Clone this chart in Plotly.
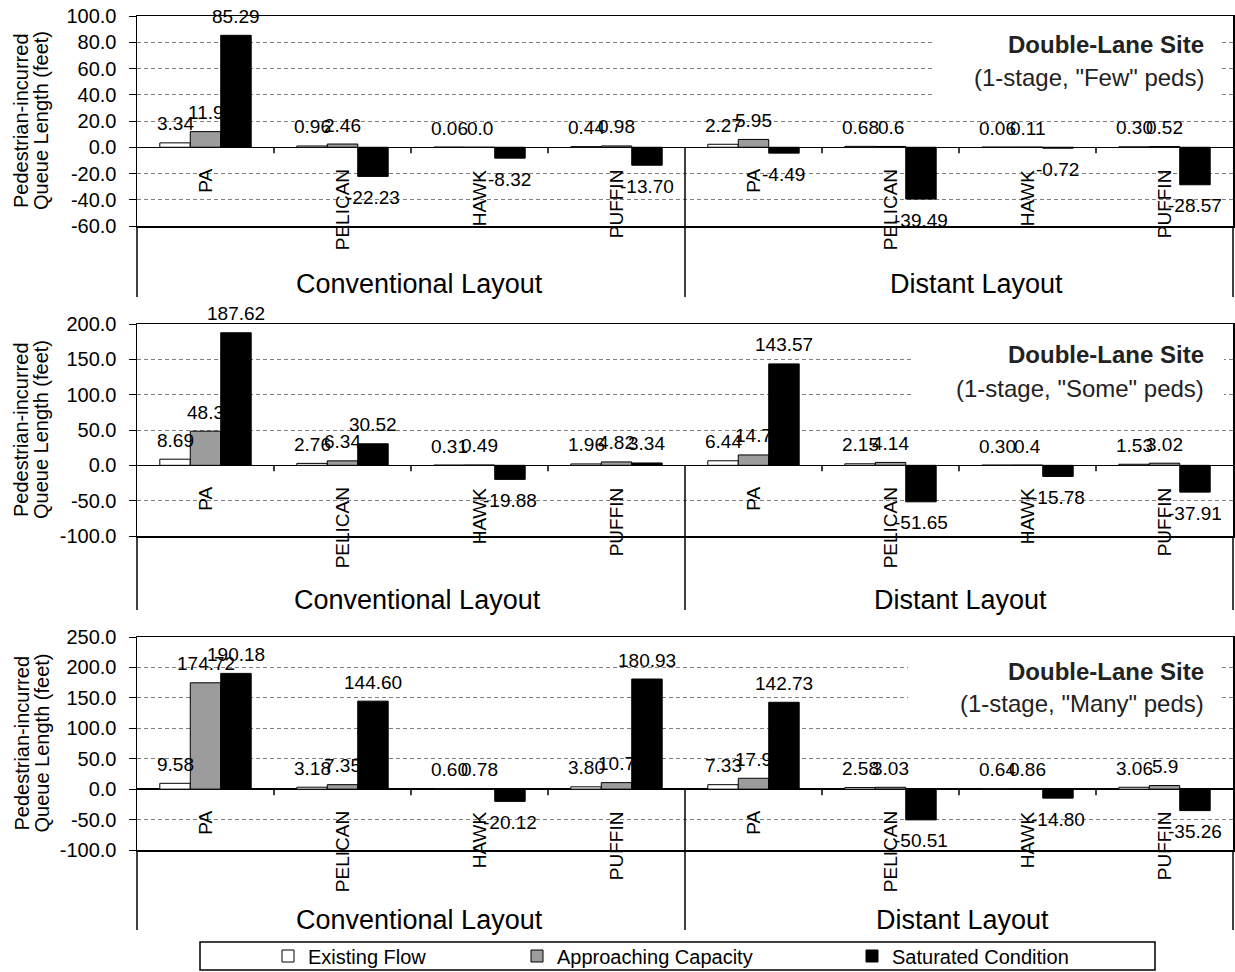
import plotly.graph_objects as go

W, H = 1235, 972

# ---- data ----
categories = ["PA", "PELICAN", "HAWK", "PUFFIN", "PA", "PELICAN", "HAWK", "PUFFIN"]
layout_groups = ["Conventional Layout", "Distant Layout"]
series_names = ["Existing Flow", "Approaching Capacity", "Saturated Condition"]

few_existing = [3.34, 0.96, 0.06, 0.44, 2.27, 0.68, 0.06, 0.30]
few_approaching = [11.9, 2.46, 0.00, 0.98, 5.95, 0.60, 0.11, 0.52]
few_saturated = [85.29, -22.23, -8.32, -13.70, -4.49, -39.49, -0.72, -28.57]

some_existing = [8.69, 2.76, 0.31, 1.96, 6.44, 2.15, 0.30, 1.53]
some_approaching = [48.3, 6.34, 0.49, 4.82, 14.7, 4.14, 0.40, 3.02]
some_saturated = [187.62, 30.52, -19.88, 3.34, 143.57, -51.65, -15.78, -37.91]

many_existing = [9.58, 3.18, 0.60, 3.80, 7.33, 2.58, 0.64, 3.06]
many_approaching = [174.72, 7.35, 0.78, 10.7, 17.9, 3.03, 0.86, 5.90]
many_saturated = [190.18, 144.60, -20.12, 180.93, 142.73, -50.51, -14.80, -35.26]

ped_levels = ['"Few"', '"Some"', '"Many"']
y_ranges = [(-60, 100), (-100, 200), (-100, 250)]
y_steps = [20, 50, 50]

# ---- styling / geometry (pixels) ----
FONT = "Liberation Sans, Arial, sans-serif"
bar_fills = ["#FFFFFF", "#9C9C9C", "#000000"]
X0, X1 = 137, 1233
panel_geom = [
    dict(top=16, bottom=226, cat_bottom=297, group_y=284, group_x=(419, 976),
         box=(932, 28, 1222, 102), title_y=(45, 77)),
    dict(top=324, bottom=536, cat_bottom=610, group_y=600, group_x=(417, 960),
         box=(912, 336, 1224, 410), title_y=(354, 388)),
    dict(top=637, bottom=850, cat_bottom=930, group_y=920, group_x=(419, 962),
         box=(908, 652, 1222, 716), title_y=(671, 703)),
]
BARGAP = 0.333
bar_w = (1 - BARGAP) / 3


def px(x):
    return x / W


def py(y):
    return 1 - y / H


def fmt2(v):
    return f"{v:.2f}"


def fmt_general(v):
    return f"{v:.1f}" if round(v, 1) == v else f"{v:.2f}"


panels_data = [
    (few_existing, few_approaching, few_saturated),
    (some_existing, some_approaching, some_saturated),
    (many_existing, many_approaching, many_saturated),
]
label_fmt = [fmt2, fmt_general, fmt2]

fig = go.Figure()
annotations = []
shapes = []
line_style = dict(color="black", width=1.5)

for p, (series, geom) in enumerate(zip(panels_data, panel_geom)):
    sfx = "" if p == 0 else str(p + 1)
    xa, ya = "x" + sfx, "y" + sfx
    ymin, ymax = y_ranges[p]
    xs = list(range(len(categories)))

    for j, vals in enumerate(series):
        fig.add_trace(go.Bar(
            x=xs, y=vals, name=series_names[j],
            marker=dict(color=bar_fills[j], line=dict(color="black", width=1)),
            xaxis=xa, yaxis=ya,
            showlegend=(p == 0),
            legend=("legend" if j == 0 else f"legend{j + 1}"),
            hoverinfo="skip",
        ))
        off = (j - 1) * bar_w
        for i, v in enumerate(vals):
            annotations.append(dict(
                x=i + off, y=v, xref=xa, yref=ya, text=label_fmt[j](v),
                showarrow=False, yshift=(19 if v >= 0 else -21),
                font=dict(family=FONT, size=19, color="black"),
            ))

    # category labels hanging below the zero line
    for i, c in enumerate(categories):
        annotations.append(dict(
            x=i, y=0, xref=xa, yref=ya, text=c, textangle=-90,
            showarrow=False, xanchor="center", yanchor="top", yshift=-20,
            font=dict(family=FONT, size=19, color="black"),
        ))

    ticks = list(range(ymin, ymax + 1, y_steps[p]))
    fig.update_layout(**{
        "xaxis" + sfx: dict(
            domain=[px(X0), px(X1)], anchor=ya, range=[-0.5, len(categories) - 0.5],
            showticklabels=False, ticks="", showgrid=False, zeroline=False,
            showline=True, mirror=True, linecolor="black", linewidth=1.5,
            fixedrange=True,
        ),
        "yaxis" + sfx: dict(
            domain=[py(geom["bottom"]), py(geom["top"])], anchor=xa,
            range=[ymin, ymax], tickvals=ticks, ticktext=[f"{t:.1f}" for t in ticks],
            ticks="outside", ticklen=7, tickwidth=1, tickcolor="black",
            ticklabelstandoff=8,
            tickfont=dict(family=FONT, size=20, color="black"),
            showline=True, mirror=True, linecolor="black", linewidth=1.5,
            showgrid=True, gridcolor="#808080", gridwidth=1, griddash="4px,3px",
            zeroline=True, zerolinecolor="black", zerolinewidth=1.5,
            fixedrange=True,
        ),
    })

    # zero line pixel position
    zero_px = geom["top"] + (ymax - 0) / (ymax - ymin) * (geom["bottom"] - geom["top"])
    step = (X1 - X0) / len(categories)

    # axis and border extensions through the category band
    for xp in (X0, X1):
        shapes.append(dict(type="line", xref="paper", yref="paper",
                           x0=px(xp), x1=px(xp), y0=py(geom["bottom"]), y1=py(geom["cat_bottom"]),
                           line=line_style, layer="above"))
    # layout separator
    xm = X0 + 4 * step
    shapes.append(dict(type="line", xref="paper", yref="paper",
                       x0=px(xm), x1=px(xm), y0=py(zero_px), y1=py(geom["cat_bottom"]),
                       line=line_style, layer="above"))
    # category tick marks on the zero line
    for k in (1, 2, 3, 5, 6, 7):
        xt = X0 + k * step
        shapes.append(dict(type="line", xref="paper", yref="paper",
                           x0=px(xt), x1=px(xt), y0=py(zero_px), y1=py(zero_px + 6),
                           line=dict(color="black", width=1.5), layer="above"))

    # layout group labels
    for g, name in enumerate(layout_groups):
        annotations.append(dict(
            x=px(geom["group_x"][g]), y=py(geom["group_y"]), xref="paper", yref="paper",
            text=name, showarrow=False, xanchor="center", yanchor="middle",
            font=dict(family=FONT, size=27, color="black"),
        ))

    # y-axis title (two lines)
    yc = (geom["top"] + geom["bottom"]) / 2
    for xt, line in ((21, "Pedestrian-incurred"), (41, "Queue Length (feet)")):
        annotations.append(dict(
            x=px(xt), y=py(yc), xref="paper", yref="paper", text=line,
            textangle=-90, showarrow=False, xanchor="center", yanchor="middle",
            font=dict(family=FONT, size=20, color="black"),
        ))

    # panel title on a white box
    bx0, by0, bx1, by1 = geom["box"]
    shapes.append(dict(type="rect", xref="paper", yref="paper",
                       x0=px(bx0), x1=px(bx1), y0=py(by0), y1=py(by1),
                       fillcolor="white", line=dict(width=0), layer="above"))
    annotations.append(dict(
        x=px(1206), y=py(geom["title_y"][0]), xref="paper", yref="paper",
        text="<b>Double-Lane Site</b>", showarrow=False, xanchor="right", yanchor="middle",
        font=dict(family=FONT, size=24, color="#222222"),
    ))
    annotations.append(dict(
        x=px(1206), y=py(geom["title_y"][1]), xref="paper", yref="paper",
        text=f"(1-stage, {ped_levels[p]} peds)", showarrow=False, xanchor="right",
        yanchor="middle", font=dict(family=FONT, size=24, color="#222222"),
    ))

# legend frame
shapes.append(dict(type="rect", xref="paper", yref="paper",
                   x0=px(200), x1=px(1155), y0=py(942), y1=py(970),
                   fillcolor="rgba(0,0,0,0)", line=dict(color="black", width=1.5)))

legend_common = dict(orientation="h", yanchor="middle", y=py(956), xanchor="left",
                     bgcolor="rgba(0,0,0,0)", borderwidth=0,
                     font=dict(family=FONT, size=20, color="black"))

fig.update_layout(
    width=W, height=H, autosize=False,
    margin=dict(l=0, r=0, t=0, b=0, autoexpand=False),
    paper_bgcolor="white", plot_bgcolor="white",
    barmode="group", bargap=BARGAP, bargroupgap=0,
    font=dict(family=FONT, color="black"),
    annotations=annotations, shapes=shapes,
    legend=dict(x=px(268), **legend_common),
    legend2=dict(x=px(517), **legend_common),
    legend3=dict(x=px(852), **legend_common),
)

fig.write_html("out.html", config={"displayModeBar": False, "staticPlot": True})
